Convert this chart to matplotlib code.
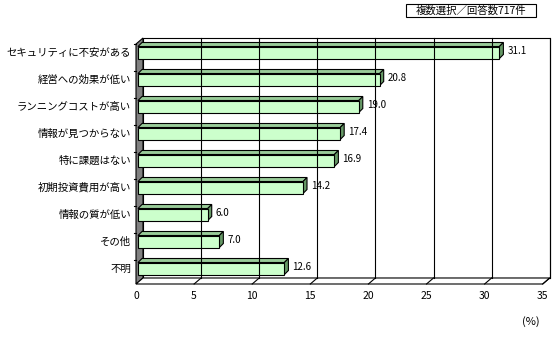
import numpy as np
import matplotlib
matplotlib.use("Agg")
import matplotlib.pyplot as plt
from matplotlib.patches import Polygon, Rectangle

plt.rcParams['font.family'] = ['Noto Sans CJK JP', 'DejaVu Sans']

categories = ["セキュリティに不安がある", "経営への効果が低い", "ランニングコストが高い",
              "情報が見つからない", "特に課題はない", "初期投資費用が高い",
              "情報の質が低い", "その他", "不明"]
values = [31.1, 20.8, 19.0, 17.4, 16.9, 14.2, 6.0, 7.0, 12.6]
xticks = [0, 5, 10, 15, 20, 25, 30, 35]
note = "複数選択／回答数717件"

W, H = 558, 338
fig = plt.figure(figsize=(W / 100, H / 100), dpi=100)

# front plane of the 3D plot area, in pixels
left_px, right_px = 136, 136 + 35 * 11.62
top_px, bot_px = 44, 284
ax = fig.add_axes([left_px / W, 1 - bot_px / H,
                   (right_px - left_px) / W, (bot_px - top_px) / H])
ax.set_xlim(0, 35)
ax.set_ylim(8.5, -0.389)
ax.axis('off')

sx = (right_px - left_px) / 35.0
sy = (bot_px - top_px) / (8.5 + 0.389)


def off(dx, dy):
    """pixel offset (right, up) -> data offset"""
    return dx / sx, -dy / sy


DX, DY = off(7, 6)          # depth of the walls
BX, BY = off(2, 2)          # bar front face inset
BDX, BDY = off(4, 4)        # bar depth
half = 6.0 / sy             # half height of bar front face

y0, y1 = -0.389, 8.5
lw = 0.8
kw = dict(clip_on=False)

# back wall
ax.add_patch(Rectangle((DX, y0 + DY), 35, y1 - y0, facecolor='white',
                       edgecolor='black', lw=lw, **kw))
# left wall
ax.add_patch(Polygon([(0, y0), (DX, y0 + DY), (DX, y1 + DY), (0, y1)],
                     facecolor='#808080', edgecolor='black', lw=lw, **kw))
# floor
ax.add_patch(Polygon([(0, y1), (35, y1), (35 + DX, y1 + DY), (DX, y1 + DY)],
                     facecolor='white', edgecolor='black', lw=lw, **kw))

# gridlines on the back wall and the floor
for t in xticks[1:]:
    ax.plot([t + DX, t + DX], [y0 + DY, y1 + DY], color='black', lw=lw, **kw)
    ax.plot([t, t + DX], [y1, y1 + DY], color='black', lw=lw, **kw)
for t in xticks:
    ax.text(t, y1 + 12 / sy, str(t), ha='center', va='center', fontsize=7.5, **kw)

# category ticks on the left wall edge
for b in np.arange(len(categories) + 1) - 0.5:
    yy = b + 0.111
    if y0 <= yy <= y1:
        ax.plot([-2 / sx, 0], [yy, yy], color='black', lw=lw, **kw)

# bars
for i, (c, v) in enumerate(zip(categories, values)):
    yc = i + BY
    xs = BX
    xe = BX + v
    top = yc - half
    bottom = yc + half
    ax.add_patch(Polygon([(xs, top), (xe, top), (xe + BDX, top + BDY), (xs + BDX, top + BDY)],
                         facecolor='#99CC99', edgecolor='black', lw=lw, **kw))
    ax.add_patch(Polygon([(xe, top), (xe + BDX, top + BDY), (xe + BDX, bottom + BDY), (xe, bottom)],
                         facecolor='#669966', edgecolor='black', lw=lw, **kw))
    ax.add_patch(Rectangle((xs, top), v, 2 * half, facecolor='#CCFFCC',
                           edgecolor='black', lw=lw, **kw))
    ax.text(xe + BDX + 4 / sx, yc - 2 / sy, f"{v:.1f}", ha='left', va='center',
            fontsize=7, **kw)
    ax.text(-5 / sx, yc, c, ha='right', va='center', fontsize=7.5, **kw)

fig.text(531 / W, 1 - 322 / H, "(%)", ha='center', va='center', fontsize=8)

fig.patches.append(Rectangle((406 / W, 1 - 17 / H), 130 / W, 13 / H,
                             transform=fig.transFigure, facecolor='white',
                             edgecolor='black', lw=lw))
fig.text(471 / W, 1 - 10.5 / H, note, ha='center', va='center', fontsize=7.5)

fig.savefig("out.png", dpi=100)
